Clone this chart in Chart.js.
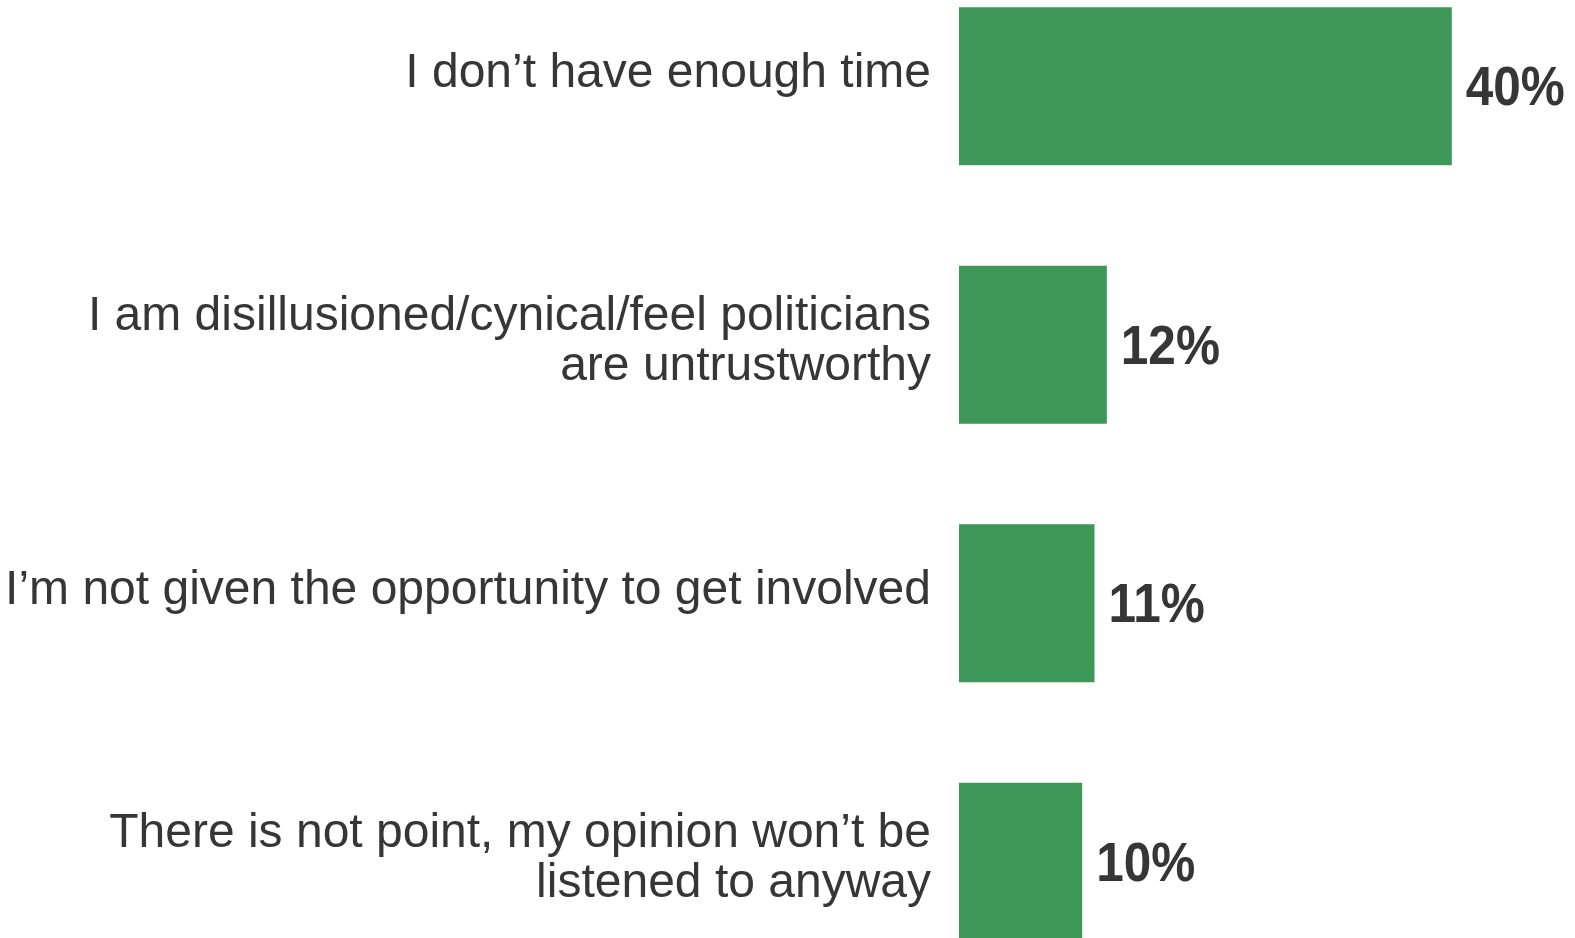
<!DOCTYPE html>
<html>
<head>
<meta charset="utf-8">
<script src="https://cdn.jsdelivr.net/npm/chart.js@4/dist/chart.umd.min.js"></script>
<style>
  html, body { margin: 0; padding: 0; background: #fff; overflow: hidden; width: 1575px; height: 938px; }
  #reasonsChart { position: absolute; left: 0; top: -43px; }
</style>
</head>
<body>
<canvas id="reasonsChart" width="1575" height="1034"></canvas>
<script>
// Razones para no participar
const categories = [
  'I don\u2019t have enough time',
  ['I am disillusioned/cynical/feel politicians', 'are untrustworthy'],
  'I\u2019m not given the opportunity to get involved',
  ['There is not point, my opinion won\u2019t be', 'listened to anyway'],
];
const percentages = [40, 12, 11, 10];

const barColor = '#3c9759';
const textColor = '#363636';
const fontFamily = '"Liberation Sans", Arial, sans-serif';

// Textos de las categorías, alineados a la derecha junto al eje
const categoryLabels = {
  id: 'categoryLabels',
  afterDraw(chart) {
    const ctx = chart.ctx;
    const yScale = chart.scales.y;
    const lineHeight = 50;
    ctx.save();
    ctx.fillStyle = textColor;
    ctx.font = '48px ' + fontFamily;
    ctx.textAlign = 'right';
    ctx.textBaseline = 'middle';
    categories.forEach((label, i) => {
      const lines = Array.isArray(label) ? label : [label];
      const shift = lines.length > 1 ? -3 : -12;
      const center = yScale.getPixelForValue(i) + shift;
      lines.forEach((line, k) => {
        const y = center + (k - (lines.length - 1) / 2) * lineHeight;
        ctx.fillText(line, yScale.right - 28, y);
      });
    });
    ctx.restore();
  },
};

// Etiquetas de porcentaje al final de cada barra
const valueLabels = {
  id: 'valueLabels',
  afterDatasetsDraw(chart) {
    const ctx = chart.ctx;
    const meta = chart.getDatasetMeta(0);
    ctx.save();
    ctx.fillStyle = textColor;
    ctx.font = 'bold 55px ' + fontFamily;
    ctx.textAlign = 'left';
    ctx.textBaseline = 'middle';
    meta.data.forEach((bar, i) => {
      ctx.save();
      ctx.translate(bar.x + 14, bar.y + 4);
      ctx.scale(0.9, 1);
      ctx.fillText(percentages[i] + '%', 0, 0);
      ctx.restore();
    });
    ctx.restore();
  },
};

const ctx = document.getElementById('reasonsChart').getContext('2d');

new Chart(ctx, {
  type: 'bar',
  data: {
    labels: categories,
    datasets: [
      {
        data: percentages,
        backgroundColor: barColor,
        borderWidth: 0,
        barPercentage: 0.611,
        categoryPercentage: 1,
      },
    ],
  },
  options: {
    indexAxis: 'y',
    responsive: false,
    animation: false,
    layout: { padding: 0 },
    scales: {
      x: {
        display: false,
        min: 0,
        max: 50,
      },
      y: {
        grid: { display: false, drawTicks: false },
        border: { display: false },
        ticks: { display: false },
        afterFit(scale) {
          // ancho fijo para el eje y sin márgenes extra arriba/abajo
          scale.width = 959;
          scale.paddingTop = 0;
          scale.paddingBottom = 0;
        },
      },
    },
    plugins: {
      legend: { display: false },
      tooltip: { enabled: false },
    },
  },
  plugins: [categoryLabels, valueLabels],
});
</script>
</body>
</html>
